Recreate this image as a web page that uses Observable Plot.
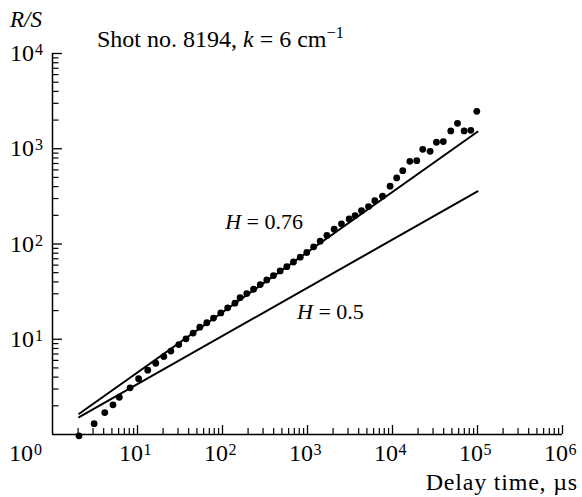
<!DOCTYPE html>
<html>
<head>
<meta charset="utf-8">
<script src="https://cdn.jsdelivr.net/npm/d3@7"></script>
<script src="https://cdn.jsdelivr.net/npm/@observablehq/plot@0.6"></script>
<style>
  html, body { margin: 0; padding: 0; background: #fff; }
  svg { display: block; }
</style>
</head>
<body>
<div id="chart"></div>
<script>
// Measured R/S against delay time (µs), shot 8194
const delayTime = [2.05, 3.09, 4.12, 5.15, 6.11, 8.18, 10.3, 13.2, 16.4, 20.4, 24.7, 30.6, 37.2, 45.1,
  54.1, 65.4, 78.4, 95.5, 115, 140, 161, 193, 232, 278, 332, 398, 477, 571, 684, 821, 981, 1180,
  1410, 1690, 2060, 2510, 3090, 3630, 4320, 5220, 6190, 7630, 9370, 11200, 13200, 16000, 19300,
  22700, 27700, 32900, 39600, 48500, 58200, 69600, 83400, 98100];
const rsRatio = [0.969, 1.30, 1.70, 2.05, 2.46, 3.09, 3.85, 4.73, 5.60, 6.58, 7.52, 8.80, 10.1, 11.6,
  13.4, 14.9, 16.7, 18.9, 21.4, 23.9, 27.3, 30.2, 33.5, 37.5, 42.0, 46.6, 52.2, 57.8, 64.7, 72.7, 81.4, 93.5,
  107, 123, 143, 163, 183, 199, 224, 247, 285, 318, 405, 494, 589, 738, 750, 986, 939, 1170, 1190,
  1540, 1850, 1540, 1560, 2470];

// Reference power laws
const fitTime = [2.06, 100000];
const fitH076 = [1.65, 1510];
const fitH05 = [1.52, 357];

// Axis decades
const xDecades = [1, 10, 100, 1000, 10000, 100000, 1000000];
const yDecades = [1, 10, 100, 1000, 10000];
const xExponents = ["0", "1", "2", "3", "4", "5", "6"];
const yExponents = ["0", "1", "2", "3", "4"];

const points = delayTime.map((t, i) => ({t, r: rsRatio[i]}));
const lineHigh = fitTime.map((t, i) => ({t, r: fitH076[i]}));
const lineLow = fitTime.map((t, i) => ({t, r: fitH05[i]}));

// minor ticks 2..9 within each decade
const minorOf = (decades) => decades.slice(0, -1).flatMap(d => [2, 3, 4, 5, 6, 7, 8, 9].map(m => m * d));
const xMinor = minorOf(xDecades);
const yMinor = minorOf(yDecades);

const W = 582, H = 497;
const mL = 52, mR = 20, mT = 53, mB = 63;
const plotW = W - mL - mR, plotH = H - mT - mB;
const serif = "Liberation Serif, DejaVu Serif, Times New Roman, serif";

const xLabel = xDecades.map((d, i) => ({d, e: xExponents[i]}));
const yLabel = yDecades.map((d, i) => ({d, e: yExponents[i]}));

const plot = Plot.plot({
  width: W,
  height: H,
  marginLeft: mL,
  marginRight: mR,
  marginTop: mT,
  marginBottom: mB,
  x: {type: "log", domain: [1, 1e6], axis: null},
  y: {type: "log", domain: [1, 1e4], axis: null},
  style: {fontFamily: serif, color: "#000", background: "#fff", overflow: "visible"},
  marks: [
    // axis lines
    Plot.ruleX([1], {stroke: "#000", strokeWidth: 1.5}),
    Plot.ruleY([1], {stroke: "#000", strokeWidth: 1.5}),
    // inward ticks on the x axis
    Plot.ruleX(xDecades.slice(1), {x: d => d, insetTop: plotH - 9, stroke: "#000", strokeWidth: 1.3}),
    Plot.ruleX(xMinor, {x: d => d, insetTop: plotH - 6, stroke: "#000", strokeWidth: 1.2}),
    // inward ticks on the y axis
    Plot.ruleY(yDecades.slice(1), {y: d => d, insetRight: plotW - 10, stroke: "#000", strokeWidth: 1.3}),
    Plot.ruleY(yMinor, {y: d => d, insetRight: plotW - 6.5, stroke: "#000", strokeWidth: 1.2}),
    // x tick labels
    Plot.text(xLabel.slice(1), {x: "d", text: () => "10", frameAnchor: "bottom", lineAnchor: "bottom",
      textAnchor: "end", dx: 5.5, dy: 26, fontSize: 24, fill: "#000"}),
    Plot.text(xLabel.slice(1), {x: "d", text: "e", frameAnchor: "bottom", lineAnchor: "bottom",
      textAnchor: "start", dx: 6, dy: 20, fontSize: 16, fill: "#000"}),
    // y tick labels
    Plot.text(yLabel.slice(1), {y: "d", text: () => "10", frameAnchor: "left", lineAnchor: "bottom",
      textAnchor: "end", dx: -18.5, dy: 7.5, fontSize: 24, fill: "#000"}),
    Plot.text(yLabel.slice(1), {y: "d", text: "e", frameAnchor: "left", lineAnchor: "bottom",
      textAnchor: "start", dx: -17.5, dy: 1.5, fontSize: 16, fill: "#000"}),
    // shared origin label
    Plot.text(xLabel.slice(0, 1), {x: "d", text: () => "10", frameAnchor: "bottom", lineAnchor: "bottom",
      textAnchor: "end", dx: -19.5, dy: 26, fontSize: 24, fill: "#000"}),
    Plot.text(xLabel.slice(0, 1), {x: "d", text: "e", frameAnchor: "bottom", lineAnchor: "bottom",
      textAnchor: "start", dx: -18.5, dy: 20, fontSize: 16, fill: "#000"}),
    // power-law references
    Plot.line(lineHigh, {x: "t", y: "r", stroke: "#000", strokeWidth: 2}),
    Plot.line(lineLow, {x: "t", y: "r", stroke: "#000", strokeWidth: 2}),
    // measurements
    Plot.dot(points, {x: "t", y: "r", r: 3.4, fill: "#000", stroke: "none"})
  ]
});

document.getElementById("chart").appendChild(plot);

// Rich-text labels (italics and superscripts)
const svg = d3.select(plot);
const sx = plot.scale("x"), sy = plot.scale("y");

function rich(x, y, parts, size, anchor = "start", spacing = 0) {
  const t = svg.append("text")
    .attr("x", x).attr("y", y)
    .style("font-family", serif)
    .attr("font-size", size)
    .attr("letter-spacing", spacing)
    .attr("fill", "#000")
    .attr("text-anchor", anchor);
  parts.forEach(p => {
    const s = t.append("tspan").text(p.text);
    if (p.italic) s.attr("font-style", "italic");
    if (p.sup) s.attr("font-size", size * 0.68).attr("dy", -size * 0.38);
  });
  return t;
}

// vertical axis title
rich(10, 27, [{text: "R/S", italic: true}], 23);
// panel title
rich(97, 47, [
  {text: "Shot no. 8194, "},
  {text: "k", italic: true},
  {text: " = 6 cm"},
  {text: "\u22121", sup: true}
], 24);
// horizontal axis title
rich(578, 490, [{text: "Delay time, \u00b5s"}], 24, "end", 0.8);

// slope annotations placed in data space
rich(sx.apply(109), sy.apply(141), [{text: "H", italic: true}, {text: " = 0.76"}], 22);
rich(sx.apply(763), sy.apply(16.1), [{text: "H", italic: true}, {text: " = 0.5"}], 22);
</script>
</body>
</html>
